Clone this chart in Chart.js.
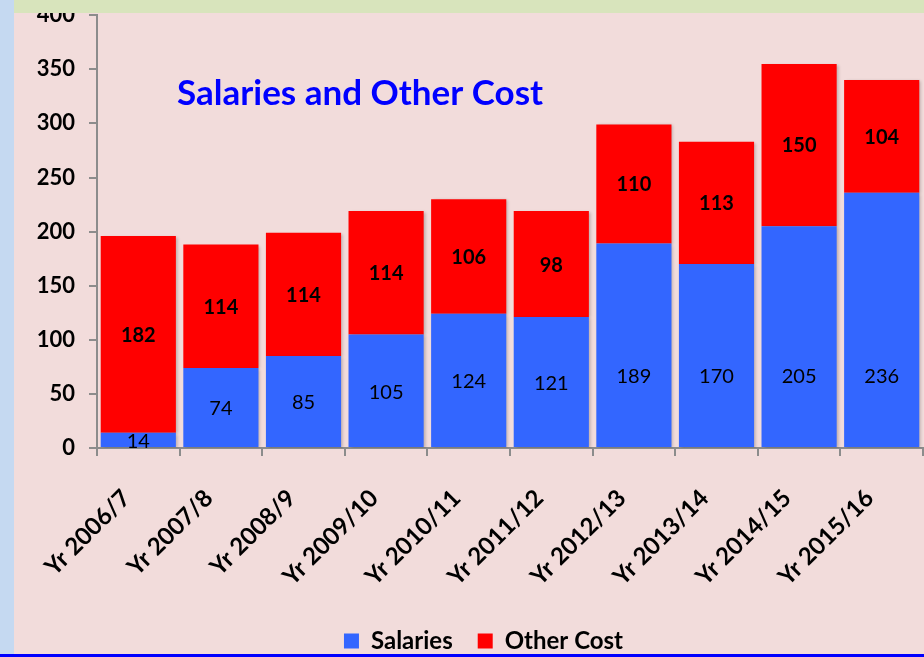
<!DOCTYPE html>
<html>
<head>
<meta charset="utf-8">
<script src="https://cdn.jsdelivr.net/npm/chart.js@4"></script>
<style>
  html, body { margin: 0; padding: 0; }
  body { width: 924px; height: 657px; background: #f2dcdb; position: relative; overflow: hidden; }
  #top { position: absolute; left: 0; top: 0; width: 924px; height: 13px; background: #d8e4bc; z-index: 2; }
  #side { position: absolute; left: 0; top: 0; width: 14px; height: 657px; background: #c5d9f1; z-index: 2; }
  #foot { position: absolute; left: 0; top: 654px; width: 924px; height: 3px; background: #0000ff; z-index: 3; }
  #wrap { position: absolute; left: 14px; top: -12px; width: 910px; height: 675px; }
</style>
</head>
<body>
<div id="top"></div>
<div id="side"></div>
<div id="foot"></div>
<div id="wrap"><canvas id="chart"></canvas></div>
<script>
const years = ['Yr 2006/7', 'Yr 2007/8', 'Yr 2008/9', 'Yr 2009/10', 'Yr 2010/11',
               'Yr 2011/12', 'Yr 2012/13', 'Yr 2013/14', 'Yr 2014/15', 'Yr 2015/16'];
const salaries = [14, 74, 85, 105, 124, 121, 189, 170, 205, 236];
const otherCost = [182, 114, 114, 114, 106, 98, 110, 113, 150, 104];
const yTicks = [0, 50, 100, 150, 200, 250, 300, 350, 400];

const FONT = 'Lato, "Open Sans", sans-serif';

// soft shadow behind the bars
const barShadow = {
    id: 'barShadow',
    beforeDatasetsDraw(chart) {
        const c = chart.ctx;
        c.save();
        c.shadowColor = 'rgba(0,0,0,0.22)';
        c.shadowBlur = 3;
        c.shadowOffsetX = 2;
        c.shadowOffsetY = 1;
    },
    afterDatasetsDraw(chart) {
        chart.ctx.restore();
    }
};

// nudge the legend a bit right of the canvas centre
const legendShift = {
    id: 'legendShift',
    afterLayout(chart) {
        chart.legend.left += 15;
        chart.legend.right += 15;
    }
};

// value labels inside the segments, plus the title inside the plot
const valueLabels = {
    id: 'valueLabels',
    afterDatasetsDraw(chart) {
        const c = chart.ctx;
        const y = chart.scales.y;
        c.save();
        c.textAlign = 'center';
        c.textBaseline = 'middle';
        c.fillStyle = '#000';
        chart.data.datasets.forEach((ds, di) => {
            const meta = chart.getDatasetMeta(di);
            meta.data.forEach((bar, i) => {
                const v = ds.data[i];
                let pos;
                if (di === 0) {
                    // salary labels sit low in tall bars
                    pos = y.getPixelForValue(Math.min(v / 2, 67));
                    c.font = '20px ' + FONT;
                } else {
                    pos = (bar.y + bar.base) / 2;
                    c.font = 'bold 20px ' + FONT;
                }
                c.fillText(String(v), bar.x, pos + 1);
            });
        });
        c.font = 'bold 35px ' + FONT;
        c.fillStyle = '#0000ff';
        c.textAlign = 'left';
        c.fillText('Salaries and Other Cost', chart.chartArea.left + 80, y.getPixelForValue(327));
        c.restore();
    }
};

new Chart(document.getElementById('chart'), {
    type: 'bar',
    data: {
        labels: years,
        datasets: [
            { label: 'Salaries', data: salaries, backgroundColor: '#3366ff' },
            { label: 'Other Cost', data: otherCost, backgroundColor: '#ff0000' }
        ]
    },
    options: {
        responsive: true,
        maintainAspectRatio: false,
        animation: false,
        barPercentage: 0.91,
        categoryPercentage: 1,
        layout: { padding: { top: 0, right: 1, left: 0, bottom: 0 } },
        scales: {
            x: {
                stacked: true,
                grid: { display: true, drawOnChartArea: false, offset: true, color: '#8c8c8c', lineWidth: 2, tickLength: 8 },
                border: { color: '#8c8c8c', width: 2 },
                ticks: {
                    color: '#000',
                    font: { family: FONT, size: 24, weight: 'bold' },
                    maxRotation: 45, minRotation: 45,
                    labelOffset: -12,
                    padding: 28
                },
                afterFit(scale) {
                    scale.height = 156;
                    scale.paddingLeft = 0;
                    scale.paddingRight = 0;
                }
            },
            y: {
                stacked: true,
                min: 0, max: 400,
                afterBuildTicks(scale) { scale.ticks = yTicks.map(v => ({ value: v })); },
                grid: { display: true, drawOnChartArea: false, color: '#8c8c8c', lineWidth: 2, tickLength: 8 },
                border: { color: '#8c8c8c', width: 2 },
                ticks: {
                    color: '#000',
                    font: { family: FONT, size: 22, weight: 'bold' },
                    padding: 14
                },
                afterFit(scale) { scale.width = 83; }
            }
        },
        plugins: {
            legend: {
                position: 'bottom',
                labels: {
                    color: '#000',
                    font: { family: FONT, size: 24, weight: 'bold' },
                    boxWidth: 15, boxHeight: 15,
                    padding: 25
                }
            },
            tooltip: { enabled: false }
        }
    },
    plugins: [barShadow, legendShift, valueLabels]
});
</script>
</body>
</html>
